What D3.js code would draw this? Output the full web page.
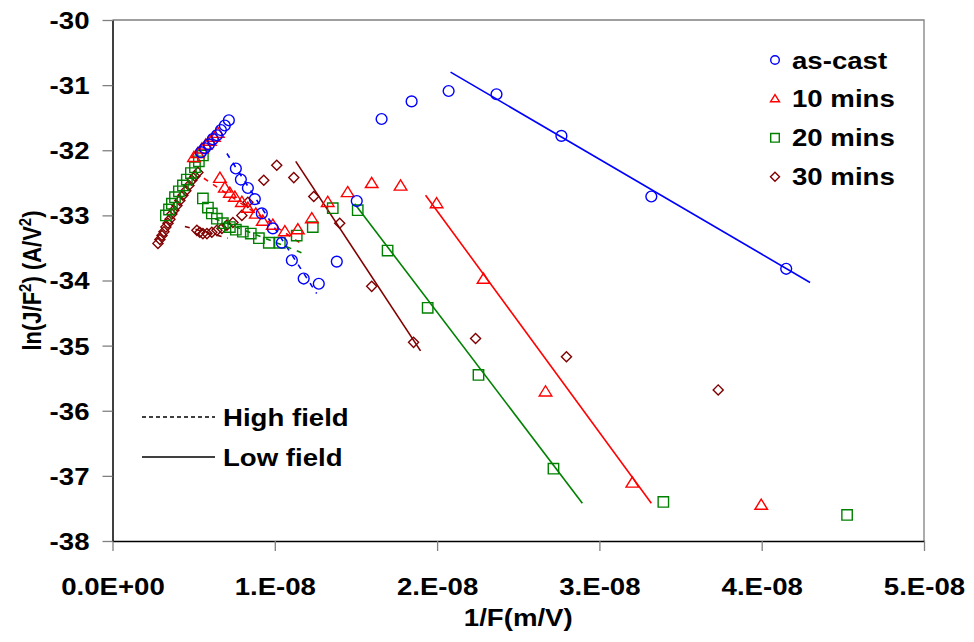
<!DOCTYPE html>
<html>
<head>
<meta charset="utf-8">
<script src="https://cdn.jsdelivr.net/npm/d3@7"></script>
<style>
body { margin: 0; background: #fff; }
text { font-family: Arial, "Liberation Sans", sans-serif; font-weight: bold; }
</style>
</head>
<body>
<div id="chart"></div>
<script>
// x values in units of 1e-9 m/V, y = ln(J/F^2)
var asCast = [[7.17,-31.54],[6.92,-31.62],[6.68,-31.69],[6.43,-31.77],[6.18,-31.83],[5.94,-31.91],[5.69,-31.97],[5.45,-32.03],
  [7.60,-32.28],[7.91,-32.45],[8.34,-32.58],[8.77,-32.75],[9.20,-32.97],[9.88,-33.20],[10.43,-33.42],[11.05,-33.69],
  [11.78,-33.97],[12.71,-34.05],[13.82,-33.71],[15.05,-32.78],[16.58,-31.52],[18.43,-31.25],[20.71,-31.09],[23.66,-31.14],
  [27.66,-31.78],[33.20,-32.71],[41.51,-33.82]];
var mins10 = [[6.49,-31.74],[6.25,-31.80],[6.00,-31.86],[5.75,-31.92],[5.51,-31.98],[5.26,-32.05],[5.02,-32.11],
  [6.62,-32.43],[6.92,-32.58],[7.23,-32.66],[7.54,-32.72],[7.97,-32.80],[8.34,-32.89],[8.83,-32.98],[9.26,-33.09],
  [9.88,-33.15],[10.62,-33.25],[11.42,-33.22],[12.28,-33.05],[13.26,-32.80],[14.49,-32.65],[15.97,-32.51],[17.75,-32.55],
  [19.97,-32.82],[22.86,-33.98],[26.68,-35.71],[32.03,-37.11],[39.97,-37.45]];
var mins20 = [[5.57,-32.08],[5.32,-32.17],[5.08,-32.26],[4.83,-32.35],[4.58,-32.45],[4.34,-32.54],[4.09,-32.63],[3.85,-32.72],
  [3.66,-32.82],[3.48,-32.91],[3.29,-33.00],
  [5.57,-32.74],[5.88,-32.88],[6.12,-32.97],[6.43,-33.05],[6.80,-33.12],[7.23,-33.18],[7.60,-33.22],[8.03,-33.25],
  [8.52,-33.28],[9.02,-33.35],[9.63,-33.42],[10.31,-33.42],[11.35,-33.31],[12.34,-33.18],[13.57,-32.89],[15.11,-32.92],
  [16.95,-33.54],[19.42,-34.42],[22.55,-35.45],[27.17,-36.89],[33.94,-37.40],[45.26,-37.60]];
var mins30 = [[2.80,-33.43],[2.92,-33.37],[3.05,-33.31],[3.17,-33.25],[3.29,-33.18],[3.42,-33.12],[3.54,-33.06],[3.66,-32.98],
  [3.78,-32.92],[3.97,-32.85],[4.15,-32.77],[4.34,-32.69],[4.52,-32.62],[4.71,-32.54],[4.89,-32.46],[5.08,-32.40],[5.26,-32.34],
  [5.20,-33.23],[5.38,-33.26],[5.57,-33.28],[5.82,-33.28],[6.12,-33.26],[6.43,-33.23],[6.74,-33.20],[7.05,-33.15],[7.42,-33.11],
  [7.97,-33.00],[8.34,-32.80],[9.32,-32.46],[10.12,-32.23],[11.17,-32.42],[12.40,-32.71],[14.00,-33.12],[15.97,-34.09],
  [18.55,-34.95],[22.37,-34.89],[27.97,-35.17],[37.32,-35.68]];

// fitted lines: [start, end]
var lowField = [[[20.83,-30.80],[42.98,-34.03]], [[19.29,-32.69],[33.20,-37.42]], [[14.92,-32.82],[28.95,-37.42]], [[11.29,-32.17],[18.98,-35.08]]];
var highField = [[[7.05,-32.05],[12.58,-34.20]], [[5.63,-32.43],[11.60,-33.43]], [[6.31,-33.05],[11.72,-33.58]], [[4.46,-33.17],[7.11,-33.35]]];

var seriesNames = ["as-cast", "10 mins", "20 mins", "30 mins"];
var seriesColors = ["#0000ff", "#ff0000", "#008000", "#800000"];
var seriesShapes = ["circle", "triangle", "square", "diamond"];
var seriesData = [asCast, mins10, mins20, mins30];

var xTicks = [0, 10, 20, 30, 40, 50];
var xTickLabels = ["0.0E+00", "1.E-08", "2.E-08", "3.E-08", "4.E-08", "5.E-08"];
var yTicks = [-38, -37, -36, -35, -34, -33, -32, -31, -30];

var width = 974, height = 642;
var fontSize = "24px";
var stretch = " scale(1.15,1)";   // text in the original is drawn a bit wide

var svg = d3.select("#chart").append("svg")
    .attr("width", width)
    .attr("height", height);

var plot = {left: 112.5, right: 924, top: 20, bottom: 541};

var x = d3.scaleLinear().domain([0, 50]).range([plot.left, plot.right]);
var y = d3.scaleLinear().domain([-38, -30]).range([plot.bottom, plot.top]);

// frame top/right
svg.append("path")
    .attr("d", "M" + plot.left + "," + plot.top + "H" + plot.right + "V" + plot.bottom)
    .attr("fill", "none")
    .attr("stroke", "#808080")
    .attr("stroke-width", 1.3);

var xAxis = d3.axisBottom(x).tickValues(xTicks).tickSize(10).tickSizeOuter(0)
    .tickFormat((d, i) => xTickLabels[i]);
var yAxis = d3.axisLeft(y).tickValues(yTicks).tickSize(10).tickSizeOuter(0)
    .tickFormat(d => String(d));

var gx = svg.append("g").attr("transform", "translate(0," + plot.bottom + ")").call(xAxis);
var gy = svg.append("g").attr("transform", "translate(" + plot.left + ",0)").call(yAxis);

[gx, gy].forEach(g => {
  g.select(".domain").attr("stroke", "#000").attr("stroke-width", 1.5);
  g.selectAll(".tick line").attr("stroke", "#808080").attr("stroke-width", 1.3);
  g.selectAll(".tick text").attr("fill", "#000").style("font-size", fontSize).style("font-weight", "bold")
    .style("font-family", "Arial, 'Liberation Sans', sans-serif")
    .attr("transform", stretch);
});
gx.selectAll(".tick text").attr("y", 54).attr("dy", 0);
gy.selectAll(".tick text").attr("x", -20).attr("dy", "0.35em");

svg.append("text")
    .attr("transform", "translate(" + ((plot.left + plot.right) / 2) + ",626)" + stretch)
    .attr("text-anchor", "middle")
    .style("font-size", fontSize)
    .text("1/F(m/V)");

var yTitle = svg.append("text")
    .attr("transform", "translate(41," + ((plot.top + plot.bottom) / 2) + ")" + stretch + " rotate(-90)")
    .attr("text-anchor", "middle")
    .style("font-size", "22px");
yTitle.append("tspan").text("ln(J/F");
yTitle.append("tspan").attr("baseline-shift", "super").style("font-size", "15px").text("2");
yTitle.append("tspan").text(") (A/V");
yTitle.append("tspan").attr("baseline-shift", "super").style("font-size", "15px").text("2");
yTitle.append("tspan").text(")");

var line = d3.line().x(d => x(d[0])).y(d => y(d[1]));

lowField.forEach((seg, i) => {
  svg.append("path").attr("d", line(seg)).attr("fill", "none")
    .attr("stroke", seriesColors[i]).attr("stroke-width", 1.6);
});
highField.forEach((seg, i) => {
  svg.append("path").attr("d", line(seg)).attr("fill", "none")
    .attr("stroke", seriesColors[i]).attr("stroke-width", 1.6)
    .attr("stroke-dasharray", "5,6");
});

function shapePath(shape, s) {
  if (shape === "circle") return d3.symbol(d3.symbolCircle, Math.PI * s * s)();
  if (shape === "triangle") {
    var h = s * 1.7;
    return "M0," + (-h * 0.6) + "L" + (s * 1.05) + "," + (h * 0.4) + "L" + (-s * 1.05) + "," + (h * 0.4) + "Z";
  }
  if (shape === "square") return "M" + (-s) + "," + (-s) + "H" + s + "V" + s + "H" + (-s) + "Z";
  return "M0," + (-s * 1.05) + "L" + (s * 1.05) + ",0L0," + (s * 1.05) + "L" + (-s * 1.05) + ",0Z";
}
var markerSize = [5.4, 6, 5.2, 4.8];

// draw 30 mins first, as-cast last (on top)
for (var k = seriesData.length - 1; k >= 0; k--) {
  svg.append("g").selectAll("path")
    .data(seriesData[k])
    .enter().append("path")
    .attr("d", shapePath(seriesShapes[k], markerSize[k]))
    .attr("transform", d => "translate(" + x(d[0]) + "," + y(d[1]) + ")")
    .attr("fill", "none")
    .attr("stroke", seriesColors[k])
    .attr("stroke-width", 1.4);
}

// legend
var legend = svg.append("g");
seriesNames.forEach((name, i) => {
  var ly = 60 + i * 38.9;
  legend.append("path")
    .attr("d", shapePath(seriesShapes[i], 4.3))
    .attr("transform", "translate(775," + ly + ")")
    .attr("fill", "none").attr("stroke", seriesColors[i]).attr("stroke-width", 1.4);
  legend.append("text")
    .attr("transform", "translate(792," + (ly + 8.5) + ")" + stretch)
    .style("font-size", fontSize).text(name);
});

var fieldNames = ["High field", "Low field"];
fieldNames.forEach((name, i) => {
  var ly = 417 + i * 40;
  legend.append("line").attr("x1", 142).attr("x2", 215).attr("y1", ly).attr("y2", ly)
    .attr("stroke", "#000").attr("stroke-width", 1.3)
    .attr("stroke-dasharray", i === 0 ? "4,3" : null);
  legend.append("text")
    .attr("transform", "translate(223," + (ly + 8.5) + ")" + stretch)
    .style("font-size", fontSize).text(name);
});
</script>
</body>
</html>
